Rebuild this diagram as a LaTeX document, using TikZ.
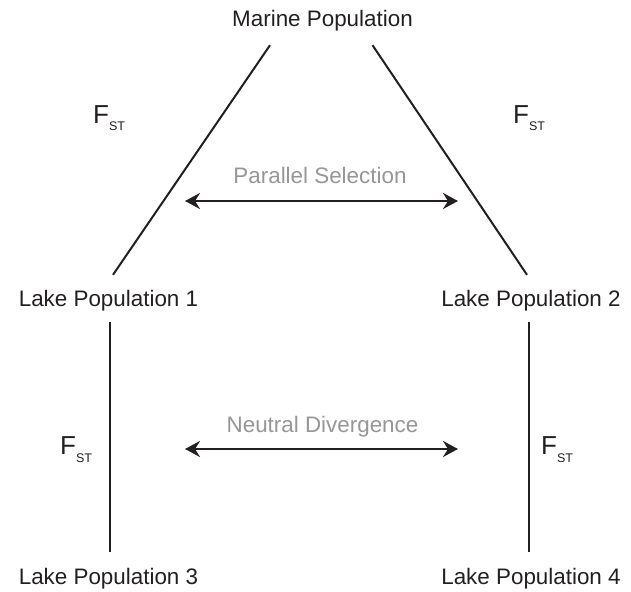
\documentclass[tikz,border=0pt]{standalone}
\usepackage{fontspec}
\setmainfont{Liberation Sans}
\usetikzlibrary{arrows.meta}
\definecolor{inkblack}{RGB}{35,31,32}
\definecolor{labelgray}{RGB}{150,150,150}
\newcommand{\fst}{{\fontsize{26}{26}\selectfont F}\raisebox{-8pt}{\fontsize{12.5}{13}\selectfont ST}}

\begin{document}
\begin{tikzpicture}[x=1pt,y=-1pt]
\useasboundingbox (0,0) rectangle (631,591);
\begin{scope}[every node/.style={anchor=base,inner sep=0pt,text height=16pt,text depth=5pt,
              text=inkblack,font=\fontsize{22.4}{26}\selectfont}]
    \node (1) at (322.5,27) {Marine Population};
    \node (2) at (108.5,306) {Lake Population 1};
    \node (3) at (531,306) {Lake Population 2};
    \node (4) at (108.5,584) {Lake Population 3};
    \node (5) at (531,584) {Lake Population 4};
\end{scope}

\begin{scope}[every node/.style={anchor=base,inner sep=0pt,text=labelgray,font=\fontsize{22.4}{26}\selectfont}]
    \node (6) at (320,183) {Parallel Selection};
    \node (7) at (322.5,432) {Neutral Divergence};
\end{scope}

\begin{scope}[every node/.style={anchor=base west,inner sep=0pt,text=inkblack}]
    \node (8) at (93,123) {\fst};
    \node (9) at (513,123) {\fst};
    \node (10) at (60,454) {\fst};
    \node (11) at (541,454) {\fst};
\end{scope}

\coordinate (a) at (185,201);
\coordinate (b) at (458,201);
\coordinate (c) at (185,449);
\coordinate (d) at (458,449);

\begin{scope}[every edge/.style={draw=inkblack,line width=2pt},
              twoway/.style={line width=2.4pt,{Stealth[length=15pt,width=16pt,inset=5pt]}-{Stealth[length=15pt,width=16pt,inset=5pt]}}]
    \path [-] ([xshift=-52.5pt,yshift=-13pt]1.south) edge ([xshift=4.5pt,yshift=15pt]2.north);
    \path [-] ([xshift=50pt,yshift=-13pt]1.south) edge ([xshift=-4pt,yshift=15pt]3.north);
    \path [-] ([xshift=1.5pt,yshift=-11pt]2.south) edge ([xshift=1.5pt,yshift=16pt]4.north);
    \path [-] ([xshift=-2pt,yshift=-11pt]3.south) edge ([xshift=-2pt,yshift=16pt]5.north);
    \path (a) edge [twoway] (b);
    \path (c) edge [twoway] (d);
\end{scope}
\end{tikzpicture}
\end{document}
